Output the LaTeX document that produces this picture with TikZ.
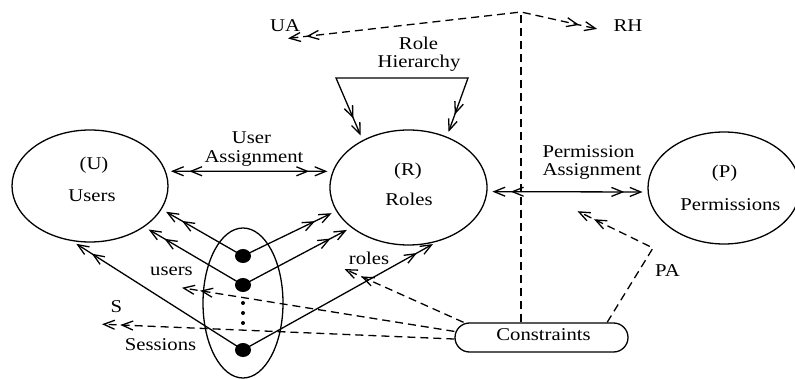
\documentclass[tikz,border=0pt]{standalone}
\usepackage{fontspec}
\setmainfont{Liberation Serif}[FakeStretch=1.15]
\usetikzlibrary{arrows.meta,shapes.geometric}
\begin{document}
\begin{tikzpicture}[x=1pt,y=-1pt,
  line width=1.3pt,
  >={Straight Barb[length=11pt,width=9pt,sep=5pt]},
  every node/.style={font=\fontsize{18}{20}\selectfont},
  txt/.style={anchor=base,inner sep=0pt},
  set/.style={draw,ellipse,inner sep=0pt},
  dot/.style={fill,ellipse,minimum width=16pt,minimum height=14pt,inner sep=0pt},
  smalldot/.style={fill,circle,minimum size=4pt,inner sep=0pt},
  cdash/.style={dash pattern=on 8pt off 5pt},
]
\useasboundingbox (0,0) rectangle (795,379);

% the three sets and the sessions
\node[set,minimum width=156pt,minimum height=112pt] (users) at (90,186) {};
\node[set,minimum width=157pt,minimum height=115pt] (roles) at (408.5,187.5) {};
\node[set,minimum width=152pt,minimum height=112pt] (perms) at (724,188) {};
\node[set,minimum width=80pt,minimum height=150pt] (sess) at (243,303) {};
\node[draw,rectangle,rounded corners=14.5pt,minimum width=173pt,minimum height=29pt,inner sep=0pt] (cons) at (541.5,337.5) {};

% session dots
\node[dot] (d1) at (243,256) {};
\node[dot] (d2) at (243,285) {};
\node[dot] (d3) at (243,350) {};
\node[smalldot] (v1) at (243,303) {};
\node[smalldot] (v2) at (243,313) {};
\node[smalldot] (v3) at (243,323) {};

% texts
\node[txt] (tu1) at (94,170) {(U)};
\node[txt] (tu2) at (92,201.5) {Users};
\node[txt] (tr1) at (408,176) {(R)};
\node[txt] (tr2) at (409,206) {Roles};
\node[txt] (tp1) at (724.5,178) {(P)};
\node[txt] (tp2) at (730.5,210.5) {Permissions};
\node[txt] (tua1) at (251.5,143.5) {User};
\node[txt] (tua2) at (254,162.5) {Assignment};
\node[txt] (tpa1) at (588.5,157.5) {Permission};
\node[txt] (tpa2) at (592,175.5) {Assignment};
\node[txt] (trh1) at (418.5,49.5) {Role};
\node[txt] (trh2) at (419,68) {Hierarchy};
\node[txt] (lua) at (285,31.5) {UA};
\node[txt] (lrh) at (628,31.5) {RH};
\node[txt] (lpa) at (667.5,276.5) {PA};
\node[txt] (lroles) at (369,265) {roles};
\node[txt] (lusers) at (171.5,276) {users};
\node[txt] (ls) at (116.5,312.5) {S};
\node[txt] (lsess) at (160.5,350) {Sessions};
\node[txt] (lcons) at (543.5,341) {Constraints};

% free ends of the connectors
\coordinate (top) at (521,12);
\coordinate (uaend) at (283,39);
\coordinate (rhend) at (602,30);
\coordinate (rh1) at (336,78);
\coordinate (rh2) at (468,78);
\coordinate (pacorner) at (653,248);
\coordinate (paend) at (573,209);
\coordinate (rolesend) at (340,267);
\coordinate (usersend) at (177,287);
\coordinate (send) at (97,324);

% assignments and hierarchy
\draw[<<->>] (users.11) -- (roles.168);
\draw[<<->>] (roles.-3) -- (perms.-177);
\draw[<<->>] (roles.134) -- (rh1) -- (rh2) -- (roles.53);

% sessions to users and roles
\draw[->>] (d1.center) -- (users.-18);
\draw[->>] (d2.center) -- (users.-37);
\draw[->>] (d3.center) -- (users.-108);
\draw[->>] (d1.center) -- (roles.-162);
\draw[->>] (d2.center) -- (roles.-145.6);
\draw[->>] (d3.center) -- (roles.-62.8);

% constraints
\draw[cdash,<<->>] (uaend) -- (top) -- (rhend);
\draw[cdash] (cons.north -| top) -- (top);
\draw[cdash,->>] (cons.13.5) -- (pacorner) -- (paend);
\draw[cdash,->>] (cons.169) -- (rolesend);
\draw[cdash,->>] (cons.176.4) -- (usersend);
\draw[cdash,->>] (cons.181) -- (send);
\end{tikzpicture}
\end{document}
